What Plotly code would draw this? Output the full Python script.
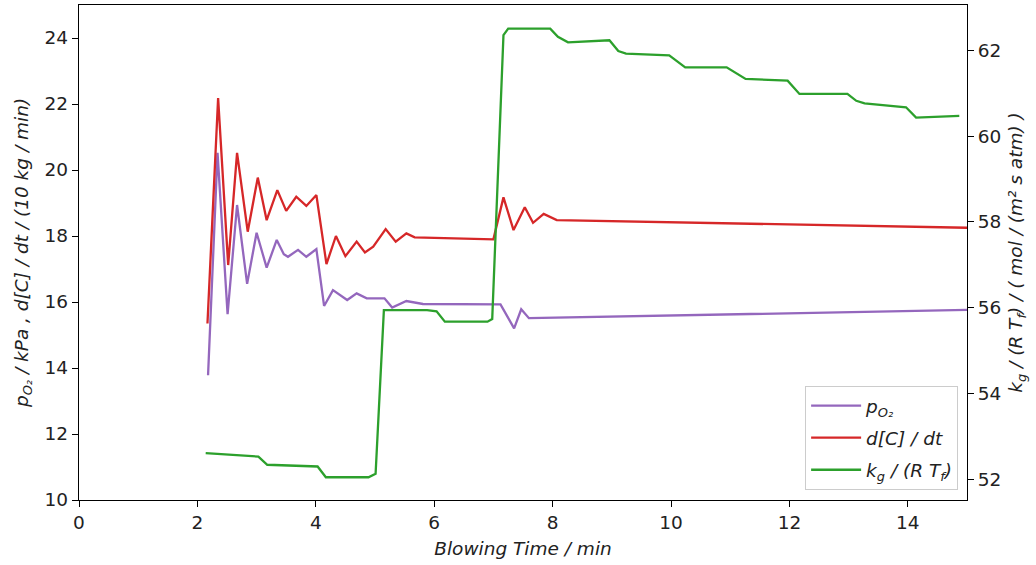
import plotly.graph_objects as go

# ---- data ----
t_po2 = [2.18, 2.34, 2.51, 2.67, 2.84, 3.0, 3.17, 3.34, 3.46, 3.53, 3.70, 3.84, 4.01, 4.14, 4.29,
         4.53, 4.69, 4.86, 5.16, 5.29, 5.53, 5.81, 7.12, 7.35, 7.47, 7.6, 15.0]
po2 = [13.78, 20.52, 15.63, 18.94, 16.55, 18.1, 17.04, 17.88, 17.45, 17.37, 17.58, 17.37, 17.6, 15.88, 16.36,
       16.06, 16.26, 16.11, 16.11, 15.83, 16.03, 15.94, 15.93, 15.2, 15.78, 15.51, 15.76]

t_dcdt = [2.17, 2.35, 2.52, 2.67, 2.85, 3.02, 3.17, 3.35, 3.5, 3.67, 3.84, 4.01, 4.18, 4.34, 4.5,
          4.69, 4.83, 4.97, 5.18, 5.35, 5.53, 5.67, 7.0, 7.17, 7.34, 7.53, 7.67, 7.85, 8.07, 15.0]
dcdt = [15.35, 22.18, 17.12, 20.52, 18.13, 19.77, 18.48, 19.39, 18.76, 19.19, 18.91, 19.24, 17.15, 18.0, 17.39,
        17.83, 17.5, 17.68, 18.21, 17.83, 18.08, 17.96, 17.90, 19.17, 18.18, 18.87, 18.40, 18.67, 18.48, 18.25]

t_kg = [2.14, 3.03, 3.18, 4.03, 4.17, 4.89, 5.01, 5.15, 5.88, 6.04, 6.18, 6.90, 6.98, 7.17, 7.25, 7.96,
        8.09, 8.26, 8.96, 9.11, 9.24, 9.97, 10.24, 10.94, 11.26, 11.97, 12.17, 12.98, 13.13, 13.27,
        13.97, 14.14, 14.87]
kg = [52.62, 52.54, 52.35, 52.31, 52.06, 52.06, 52.14, 55.95, 55.95, 55.92, 55.68, 55.68, 55.74, 62.35, 62.50, 62.50,
      62.31, 62.18, 62.23, 61.98, 61.92, 61.88, 61.60, 61.60, 61.33, 61.29, 60.98, 60.98, 60.82, 60.76,
      60.67, 60.43, 60.47]

x_ticks = [0, 2, 4, 6, 8, 10, 12, 14]
y_ticks = [10, 12, 14, 16, 18, 20, 22, 24]
y2_ticks = [52, 54, 56, 58, 60, 62]

FONT = "DejaVu Sans"
FS = 18.5

fig = go.Figure()
fig.add_trace(go.Scatter(x=t_po2, y=po2, mode="lines", name="<i>p<sub>O₂</sub></i>",
                         legendgroup="a", line=dict(color="#9467bd", width=2.3)))
fig.add_trace(go.Scatter(x=t_dcdt, y=dcdt, mode="lines", name="<i>d[C] / dt</i>",
                         legendgroup="b", line=dict(color="#d62728", width=2.3)))
fig.add_trace(go.Scatter(x=t_kg, y=kg, mode="lines", name="<i>k<sub>g</sub> / (R T<sub>f</sub>)</i>",
                         legendgroup="c", line=dict(color="#2ca02c", width=2.3), yaxis="y2"))

axis_common = dict(showline=True, linecolor="black", linewidth=1.3, ticks="outside", ticklen=6,
                   tickwidth=1.3, tickcolor="black", showgrid=False, zeroline=False, automargin=False,
                   tickfont=dict(family=FONT, size=FS, color="#222"))

fig.update_layout(
    width=1036, height=565,
    margin=dict(l=79, r=69, t=5, b=65),
    paper_bgcolor="white", plot_bgcolor="white",
    font=dict(family=FONT, size=FS, color="#222"),
    xaxis=dict(range=[0, 15], tickvals=x_ticks, mirror=True,
               title=dict(text="<i>Blowing Time / min</i>", standoff=9,
                          font=dict(family=FONT, size=FS)),
               **axis_common),
    yaxis=dict(range=[10, 25], tickvals=y_ticks,
               title=dict(text="<i>p<sub>O₂</sub> / kPa , d[C] / dt / (10 kg / min)</i>", standoff=11,
                          font=dict(family=FONT, size=FS)),
               **axis_common),
    yaxis2=dict(range=[51.53, 63.05], tickvals=y2_ticks, overlaying="y", side="right",
                title=dict(text="<i>k<sub>g</sub> / (R T<sub>f</sub>) / ( mol / (m² s atm) )</i>", standoff=8,
                           font=dict(family=FONT, size=FS)),
                **axis_common),
    legend=dict(x=0.99, y=0.02, xanchor="right", yanchor="bottom",
                bgcolor="rgba(255,255,255,0.85)", bordercolor="#cccccc", borderwidth=1,
                font=dict(family=FONT, size=FS, color="#222"), tracegroupgap=5,
                itemwidth=50),
    showlegend=True,
)

fig.write_html("out.html", config={"displayModeBar": False},
               post_script="document.body.style.margin='0px';")
